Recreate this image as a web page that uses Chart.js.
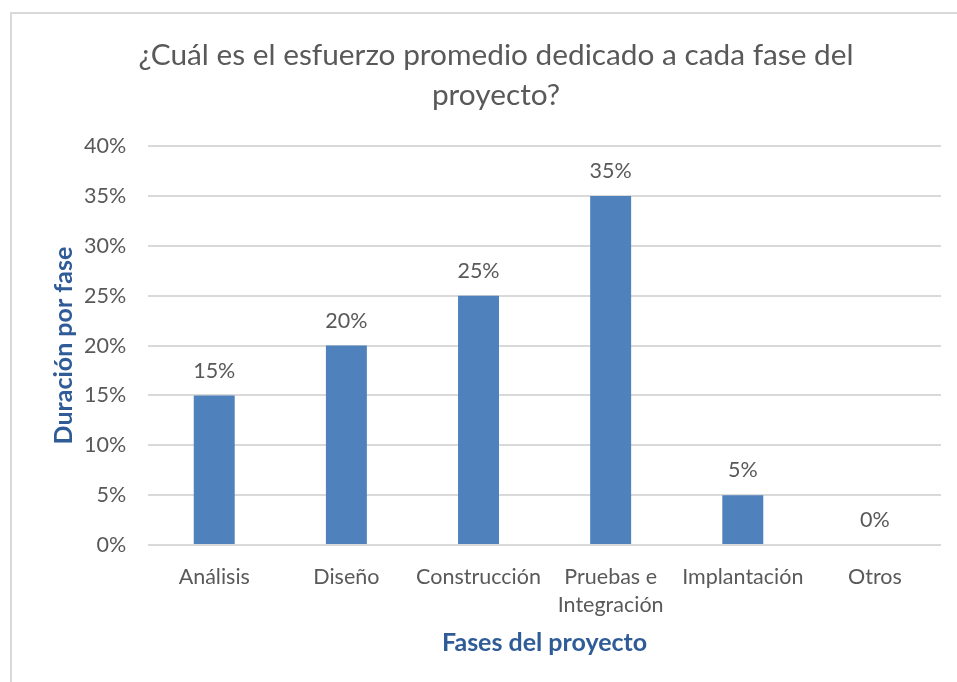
<!DOCTYPE html>
<html>
<head>
<meta charset="utf-8">
<script src="https://cdn.jsdelivr.net/npm/chart.js@4/dist/chart.umd.min.js"></script>
<style>
  body { margin: 0; background: #fff; }
  #box { position: absolute; left: 10px; top: 12px; width: 960px; height: 680px; border: 2px solid #d9d9d9; }
  #wrap { position: absolute; left: 0; top: 0; width: 945px; height: 668px; }
</style>
</head>
<body>
<div id="box"><div id="wrap"><canvas id="canvas"></canvas></div></div>
<script>
// datos
var fases = ["Análisis", "Diseño", "Construcción", ["Pruebas e", "Integración"], "Implantación", "Otros"];
var duracion = [15, 20, 25, 35, 5, 0];
var ticksY = [0, 5, 10, 15, 20, 25, 30, 35, 40];

var gris = '#595959';
var azul = '#4F81BD';
var fuente = "Lato, 'Open Sans', sans-serif";

// etiquetas encima de las barras
var etiquetas = {
    id: 'etiquetas',
    afterDatasetsDraw: function (chart) {
        var ctx = chart.ctx;
        var meta = chart.getDatasetMeta(0);
        ctx.save();
        ctx.font = '21.5px ' + fuente;
        ctx.fillStyle = gris;
        ctx.textAlign = 'center';
        ctx.textBaseline = 'bottom';
        meta.data.forEach(function (bar, i) {
            ctx.fillText(duracion[i] + '%', bar.x, bar.y - 14);
        });
        ctx.restore();
    }
};

var config = {
    type: 'bar',
    data: {
        labels: fases,
        datasets: [{
            data: duracion,
            backgroundColor: azul,
            barPercentage: 0.62,
            categoryPercentage: 0.5
        }]
    },
    options: {
        responsive: true,
        maintainAspectRatio: false,
        animation: false,
        layout: { padding: { left: 39, right: 16, top: 10, bottom: 20 } },
        plugins: {
            legend: { display: false },
            tooltip: { enabled: false },
            title: {
                display: true,
                text: ['¿Cuál es el esfuerzo promedio dedicado a cada fase del', 'proyecto?'],
                color: gris,
                font: { family: fuente, size: 29.8, weight: 'normal', lineHeight: 1.36 },
                padding: { top: 11, bottom: 30 }
            }
        },
        scales: {
            x: {
                grid: { display: false },
                border: { display: false },
                ticks: { color: gris, font: { family: fuente, size: 21.5, lineHeight: 1.3 }, maxRotation: 0, autoSkip: false, padding: 10 },
                title: {
                    display: true,
                    text: 'Fases del proyecto',
                    color: '#2F5C97',
                    font: { family: fuente, size: 25, weight: 'bold' },
                    padding: { top: -1 }
                }
            },
            y: {
                min: 0,
                max: 40,
                afterBuildTicks: function (axis) {
                    axis.ticks = ticksY.map(function (v) { return { value: v }; });
                },
                grid: { color: '#d9d9d9', lineWidth: 2, drawTicks: false },
                border: { display: false },
                ticks: {
                    color: gris,
                    font: { family: fuente, size: 21.5 },
                    padding: 22,
                    callback: function (v) { return v + '%'; }
                },
                title: {
                    display: true,
                    text: 'Duración por fase',
                    color: '#2F5C97',
                    font: { family: fuente, size: 25, weight: 'bold', lineHeight: 1 },
                    padding: { top: 0, bottom: -14 }
                }
            }
        }
    },
    plugins: [etiquetas]
};

window.onload = function () {
    window.miGrafico = new Chart(document.getElementById('canvas'), config);
};
</script>
</body>
</html>
